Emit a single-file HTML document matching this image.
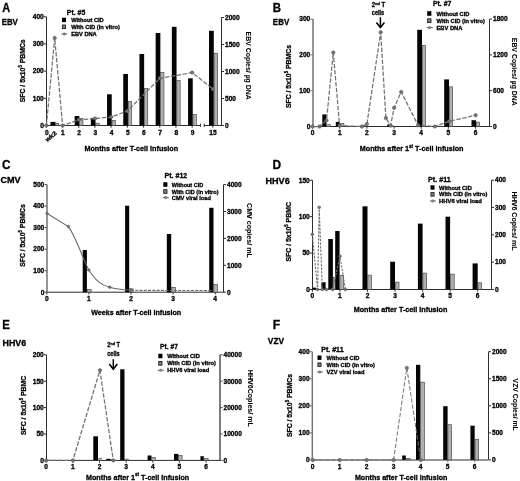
<!DOCTYPE html>
<html><head><meta charset="utf-8"><title>Figure</title>
<style>
html,body{margin:0;padding:0;background:#fff;width:520px;height:481px;overflow:hidden;}
svg{display:block;will-change:transform;filter:blur(0.3px);font-family:"Liberation Sans", sans-serif;font-weight:bold;}
text{stroke:#000;stroke-width:0.3px;}
</style></head><body>
<svg width="520" height="481" viewBox="0 0 520 481">
<rect x="0" y="0" width="520" height="481" fill="#fff"/>
<text x="2.34" y="11.7" font-size="12.06" textLength="7.95" lengthAdjust="spacingAndGlyphs">A</text>
<text x="1.68" y="25.3" font-size="9.16" textLength="16.17" lengthAdjust="spacingAndGlyphs">EBV</text>
<line x1="46.5" y1="16.78" x2="46.5" y2="125.5" stroke="#2e2e2e" stroke-width="1"/>
<line x1="43.9" y1="125.5" x2="46.5" y2="125.5" stroke="#2e2e2e" stroke-width="1"/>
<text x="43.8" y="127.8" font-size="6.6" text-anchor="end">0</text>
<line x1="43.9" y1="98.32" x2="46.5" y2="98.32" stroke="#2e2e2e" stroke-width="1"/>
<text x="43.8" y="100.62" font-size="6.6" text-anchor="end">100</text>
<line x1="43.9" y1="71.14" x2="46.5" y2="71.14" stroke="#2e2e2e" stroke-width="1"/>
<text x="43.8" y="73.44" font-size="6.6" text-anchor="end">200</text>
<line x1="43.9" y1="43.96" x2="46.5" y2="43.96" stroke="#2e2e2e" stroke-width="1"/>
<text x="43.8" y="46.26" font-size="6.6" text-anchor="end">300</text>
<line x1="43.9" y1="16.78" x2="46.5" y2="16.78" stroke="#2e2e2e" stroke-width="1"/>
<text x="43.8" y="19.08" font-size="6.6" text-anchor="end">400</text>
<line x1="221.5" y1="17.5" x2="221.5" y2="125.5" stroke="#2e2e2e" stroke-width="1"/>
<line x1="221.5" y1="125.5" x2="224.1" y2="125.5" stroke="#2e2e2e" stroke-width="1"/>
<text x="225" y="127.8" font-size="6.6">0</text>
<line x1="221.5" y1="98.5" x2="224.1" y2="98.5" stroke="#2e2e2e" stroke-width="1"/>
<text x="225" y="100.8" font-size="6.6">500</text>
<line x1="221.5" y1="71.5" x2="224.1" y2="71.5" stroke="#2e2e2e" stroke-width="1"/>
<text x="225" y="73.8" font-size="6.6">1000</text>
<line x1="221.5" y1="44.5" x2="224.1" y2="44.5" stroke="#2e2e2e" stroke-width="1"/>
<text x="225" y="46.8" font-size="6.6">1500</text>
<line x1="221.5" y1="17.5" x2="224.1" y2="17.5" stroke="#2e2e2e" stroke-width="1"/>
<text x="225" y="19.8" font-size="6.6">2000</text>
<line x1="46.5" y1="125.5" x2="200.4" y2="125.5" stroke="#2e2e2e" stroke-width="1"/>
<line x1="204.2" y1="125.5" x2="221.5" y2="125.5" stroke="#2e2e2e" stroke-width="1"/>
<line x1="46.35" y1="125.5" x2="46.35" y2="127.7" stroke="#2e2e2e" stroke-width="1"/>
<text x="46.75" y="134.5" font-size="6.6" text-anchor="middle">0</text>
<line x1="62.55" y1="125.5" x2="62.55" y2="127.7" stroke="#2e2e2e" stroke-width="1"/>
<text x="62.95" y="134.5" font-size="6.6" text-anchor="middle">1</text>
<line x1="78.75" y1="125.5" x2="78.75" y2="127.7" stroke="#2e2e2e" stroke-width="1"/>
<text x="79.15" y="134.5" font-size="6.6" text-anchor="middle">2</text>
<line x1="94.95" y1="125.5" x2="94.95" y2="127.7" stroke="#2e2e2e" stroke-width="1"/>
<text x="95.35" y="134.5" font-size="6.6" text-anchor="middle">3</text>
<line x1="111.15" y1="125.5" x2="111.15" y2="127.7" stroke="#2e2e2e" stroke-width="1"/>
<text x="111.55" y="134.5" font-size="6.6" text-anchor="middle">4</text>
<line x1="127.35" y1="125.5" x2="127.35" y2="127.7" stroke="#2e2e2e" stroke-width="1"/>
<text x="127.75" y="134.5" font-size="6.6" text-anchor="middle">5</text>
<line x1="143.55" y1="125.5" x2="143.55" y2="127.7" stroke="#2e2e2e" stroke-width="1"/>
<text x="143.95" y="134.5" font-size="6.6" text-anchor="middle">6</text>
<line x1="159.75" y1="125.5" x2="159.75" y2="127.7" stroke="#2e2e2e" stroke-width="1"/>
<text x="160.15" y="134.5" font-size="6.6" text-anchor="middle">7</text>
<line x1="175.95" y1="125.5" x2="175.95" y2="127.7" stroke="#2e2e2e" stroke-width="1"/>
<text x="176.35" y="134.5" font-size="6.6" text-anchor="middle">8</text>
<line x1="192.15" y1="125.5" x2="192.15" y2="127.7" stroke="#2e2e2e" stroke-width="1"/>
<text x="192.55" y="134.5" font-size="6.6" text-anchor="middle">9</text>
<line x1="212.9" y1="125.5" x2="212.9" y2="127.7" stroke="#2e2e2e" stroke-width="1"/>
<text x="213" y="134.5" font-size="6.6" text-anchor="middle">15</text>
<line x1="200.4" y1="123.6" x2="200.4" y2="127" stroke="#2e2e2e" stroke-width="1"/>
<line x1="204.2" y1="123.6" x2="204.2" y2="127" stroke="#2e2e2e" stroke-width="1"/>
<text transform="translate(47.2 141.9) rotate(-38)" x="0" y="0" font-size="6" textLength="12.8" lengthAdjust="spacingAndGlyphs">wk2</text>
<rect x="50.5" y="121.9" width="5" height="3.6" fill="#050505"/>
<rect x="55.8" y="123.3" width="2.9" height="2.2" fill="#b0b0b0" stroke="#3a3a3a" stroke-width="0.6"/>
<rect x="74.65" y="116" width="4.7" height="9.5" fill="#050505"/>
<rect x="79.65" y="118.4" width="3.3" height="7.1" fill="#b0b0b0" stroke="#3a3a3a" stroke-width="0.6"/>
<rect x="90.85" y="117.9" width="4.7" height="7.6" fill="#050505"/>
<rect x="95.85" y="123.2" width="3.3" height="2.3" fill="#b0b0b0" stroke="#3a3a3a" stroke-width="0.6"/>
<rect x="107.05" y="94.3" width="4.7" height="31.2" fill="#050505"/>
<rect x="112.05" y="120.3" width="3.3" height="5.2" fill="#b0b0b0" stroke="#3a3a3a" stroke-width="0.6"/>
<rect x="123.25" y="74" width="4.7" height="51.5" fill="#050505"/>
<rect x="128.25" y="101.3" width="3.3" height="24.2" fill="#b0b0b0" stroke="#3a3a3a" stroke-width="0.6"/>
<rect x="139.45" y="54" width="4.7" height="71.5" fill="#050505"/>
<rect x="144.45" y="88.3" width="3.3" height="37.2" fill="#b0b0b0" stroke="#3a3a3a" stroke-width="0.6"/>
<rect x="155.65" y="33" width="4.7" height="92.5" fill="#050505"/>
<rect x="160.65" y="72.3" width="3.3" height="53.2" fill="#b0b0b0" stroke="#3a3a3a" stroke-width="0.6"/>
<rect x="171.85" y="26.8" width="4.7" height="98.7" fill="#050505"/>
<rect x="176.85" y="80.3" width="3.3" height="45.2" fill="#b0b0b0" stroke="#3a3a3a" stroke-width="0.6"/>
<rect x="188.05" y="78.3" width="4.7" height="47.2" fill="#050505"/>
<rect x="193.05" y="114.6" width="3.3" height="10.9" fill="#b0b0b0" stroke="#3a3a3a" stroke-width="0.6"/>
<rect x="209" y="30.8" width="4.8" height="94.7" fill="#050505"/>
<rect x="214.1" y="53.2" width="3.5" height="72.3" fill="#b0b0b0" stroke="#3a3a3a" stroke-width="0.6"/>
<polyline points="46.4,125.5 54.7,38 62.6,125.5 78.8,119.8 95,118.5 111.2,117 127.4,111 159.8,78.3 192.1,72.6 212.9,89" fill="none" stroke="#727272" stroke-width="1.25" stroke-dasharray="4.4 1.6"/>
<circle cx="46.4" cy="125.5" r="1.75" fill="#727272" stroke="#5a5a5a" stroke-width="0.5"/>
<circle cx="54.7" cy="38" r="1.75" fill="#727272" stroke="#5a5a5a" stroke-width="0.5"/>
<circle cx="62.6" cy="125.5" r="1.75" fill="#727272" stroke="#5a5a5a" stroke-width="0.5"/>
<circle cx="78.8" cy="119.8" r="1.75" fill="#727272" stroke="#5a5a5a" stroke-width="0.5"/>
<circle cx="95" cy="118.5" r="1.75" fill="#727272" stroke="#5a5a5a" stroke-width="0.5"/>
<circle cx="111.2" cy="117" r="1.75" fill="#727272" stroke="#5a5a5a" stroke-width="0.5"/>
<circle cx="127.4" cy="111" r="1.75" fill="#727272" stroke="#5a5a5a" stroke-width="0.5"/>
<circle cx="159.8" cy="78.3" r="1.75" fill="#727272" stroke="#5a5a5a" stroke-width="0.5"/>
<circle cx="192.1" cy="72.6" r="1.75" fill="#727272" stroke="#5a5a5a" stroke-width="0.5"/>
<circle cx="212.9" cy="89" r="1.75" fill="#727272" stroke="#5a5a5a" stroke-width="0.5"/>
<text x="84.42" y="150.5" font-size="7.27" textLength="93.72" lengthAdjust="spacingAndGlyphs">Months after T-cell infusion</text>
<text transform="translate(25 102.29) rotate(-90)" x="0" y="0" font-size="7.41" textLength="62.97" lengthAdjust="spacingAndGlyphs">SFC / 5x10<tspan font-size="4.6" dy="-3.11">5</tspan><tspan dy="3.11"> PBMCs</tspan></text>
<text transform="translate(245.7 31.54) rotate(90)" x="0" y="0" font-size="7.41" style="stroke-width:0.05px" textLength="68.24" lengthAdjust="spacingAndGlyphs">EBV Copies/ µg DNA</text>
<text x="66.8" y="14.8" font-size="7.2" textLength="18.5" lengthAdjust="spacingAndGlyphs">Pt. #5</text>
<rect x="62" y="17.7" width="4" height="4.4" fill="#000"/>
<rect x="62.4" y="25" width="3.2" height="3.6" fill="#7e7e7e" stroke="#111" stroke-width="0.8"/>
<line x1="61.4" y1="34" x2="67.4" y2="34" stroke="#666" stroke-width="1"/>
<circle cx="64.3" cy="34" r="1.3" fill="#888" stroke="#555" stroke-width="0.4"/>
<text x="71.2" y="21.9" font-size="5.6" textLength="32.5" lengthAdjust="spacingAndGlyphs">Without CID</text>
<text x="71.2" y="28.8" font-size="5.6" textLength="48.7" lengthAdjust="spacingAndGlyphs">With CID (in vitro)</text>
<text x="71.2" y="36" font-size="5.6" textLength="25.5" lengthAdjust="spacingAndGlyphs">EBV DNA</text>
<text x="272.84" y="11.9" font-size="12.21" textLength="8.27" lengthAdjust="spacingAndGlyphs">B</text>
<text x="272.87" y="25.1" font-size="9.01" textLength="16.37" lengthAdjust="spacingAndGlyphs">EBV</text>
<line x1="313" y1="19.1" x2="313" y2="126.5" stroke="#737373" stroke-width="1.5"/>
<line x1="310.4" y1="126.5" x2="313" y2="126.5" stroke="#737373" stroke-width="1"/>
<text x="310.3" y="128.8" font-size="6.6" text-anchor="end">0</text>
<line x1="310.4" y1="90.7" x2="313" y2="90.7" stroke="#737373" stroke-width="1"/>
<text x="310.3" y="93" font-size="6.6" text-anchor="end">100</text>
<line x1="310.4" y1="54.9" x2="313" y2="54.9" stroke="#737373" stroke-width="1"/>
<text x="310.3" y="57.2" font-size="6.6" text-anchor="end">200</text>
<line x1="310.4" y1="19.1" x2="313" y2="19.1" stroke="#737373" stroke-width="1"/>
<text x="310.3" y="21.4" font-size="6.6" text-anchor="end">300</text>
<line x1="489.5" y1="19.09" x2="489.5" y2="126.5" stroke="#2e2e2e" stroke-width="1"/>
<line x1="489.5" y1="126.5" x2="492.1" y2="126.5" stroke="#2e2e2e" stroke-width="1"/>
<text x="493" y="128.8" font-size="6.6">0</text>
<line x1="489.5" y1="90.7" x2="492.1" y2="90.7" stroke="#2e2e2e" stroke-width="1"/>
<text x="493" y="93" font-size="6.6">600</text>
<line x1="489.5" y1="54.9" x2="492.1" y2="54.9" stroke="#2e2e2e" stroke-width="1"/>
<text x="493" y="57.2" font-size="6.6">1200</text>
<line x1="489.5" y1="19.09" x2="492.1" y2="19.09" stroke="#2e2e2e" stroke-width="1"/>
<text x="493" y="21.39" font-size="6.6">1800</text>
<line x1="313" y1="126.5" x2="489.5" y2="126.5" stroke="#2e2e2e" stroke-width="1"/>
<line x1="312.6" y1="126.5" x2="312.6" y2="128.7" stroke="#2e2e2e" stroke-width="1"/>
<text x="312.6" y="134.7" font-size="6.6" text-anchor="middle">0</text>
<line x1="339.75" y1="126.5" x2="339.75" y2="128.7" stroke="#2e2e2e" stroke-width="1"/>
<text x="339.75" y="134.7" font-size="6.6" text-anchor="middle">1</text>
<line x1="366.9" y1="126.5" x2="366.9" y2="128.7" stroke="#2e2e2e" stroke-width="1"/>
<text x="366.9" y="134.7" font-size="6.6" text-anchor="middle">2</text>
<line x1="394.05" y1="126.5" x2="394.05" y2="128.7" stroke="#2e2e2e" stroke-width="1"/>
<text x="394.05" y="134.7" font-size="6.6" text-anchor="middle">3</text>
<line x1="421.2" y1="126.5" x2="421.2" y2="128.7" stroke="#2e2e2e" stroke-width="1"/>
<text x="421.2" y="134.7" font-size="6.6" text-anchor="middle">4</text>
<line x1="448.35" y1="126.5" x2="448.35" y2="128.7" stroke="#2e2e2e" stroke-width="1"/>
<text x="448.35" y="134.7" font-size="6.6" text-anchor="middle">5</text>
<line x1="475.5" y1="126.5" x2="475.5" y2="128.7" stroke="#2e2e2e" stroke-width="1"/>
<text x="475.5" y="134.7" font-size="6.6" text-anchor="middle">6</text>
<rect x="322.3" y="114.4" width="4.2" height="12.1" fill="#050505"/>
<rect x="326.8" y="124.7" width="3.8" height="1.8" fill="#b0b0b0" stroke="#3a3a3a" stroke-width="0.6"/>
<rect x="335.8" y="121.9" width="3.95" height="4.6" fill="#050505"/>
<rect x="340.05" y="123.4" width="3.85" height="3.1" fill="#b0b0b0" stroke="#3a3a3a" stroke-width="0.6"/>
<rect x="387.2" y="124.5" width="3.4" height="2" fill="#050505"/>
<rect x="390.9" y="125.9" width="2.8" height="0.6" fill="#b0b0b0" stroke="#3a3a3a" stroke-width="0.6"/>
<rect x="417.2" y="29.8" width="4.8" height="96.7" fill="#050505"/>
<rect x="422.3" y="45.5" width="3.2" height="81" fill="#b0b0b0" stroke="#3a3a3a" stroke-width="0.6"/>
<rect x="444.2" y="79.4" width="4.8" height="47.1" fill="#050505"/>
<rect x="449.3" y="86.8" width="3.4" height="39.7" fill="#b0b0b0" stroke="#3a3a3a" stroke-width="0.6"/>
<rect x="471.5" y="120.2" width="4.5" height="6.3" fill="#050505"/>
<rect x="476.3" y="122.1" width="3.4" height="4.4" fill="#b0b0b0" stroke="#3a3a3a" stroke-width="0.6"/>
<polyline points="312.6,126.5 319.6,126.5 326.5,120.4 333.3,52.5 339.6,125.6 361.9,126.5 366.9,124.1 380.7,32.2 385.9,118.1 390.6,125.6 394.1,107.8 401.2,91.9 418.1,125.3 434.8,126.5 449.3,121.3 475.6,115.2" fill="none" stroke="#727272" stroke-width="1.25" stroke-dasharray="4.4 1.6"/>
<circle cx="312.6" cy="126.5" r="1.75" fill="#727272" stroke="#5a5a5a" stroke-width="0.5"/>
<circle cx="319.6" cy="126.5" r="1.75" fill="#727272" stroke="#5a5a5a" stroke-width="0.5"/>
<circle cx="326.5" cy="120.4" r="1.75" fill="#727272" stroke="#5a5a5a" stroke-width="0.5"/>
<circle cx="333.3" cy="52.5" r="1.75" fill="#727272" stroke="#5a5a5a" stroke-width="0.5"/>
<circle cx="339.6" cy="125.6" r="1.75" fill="#727272" stroke="#5a5a5a" stroke-width="0.5"/>
<circle cx="361.9" cy="126.5" r="1.75" fill="#727272" stroke="#5a5a5a" stroke-width="0.5"/>
<circle cx="366.9" cy="124.1" r="1.75" fill="#727272" stroke="#5a5a5a" stroke-width="0.5"/>
<circle cx="380.7" cy="32.2" r="1.75" fill="#727272" stroke="#5a5a5a" stroke-width="0.5"/>
<circle cx="385.9" cy="118.1" r="1.75" fill="#727272" stroke="#5a5a5a" stroke-width="0.5"/>
<circle cx="390.6" cy="125.6" r="1.75" fill="#727272" stroke="#5a5a5a" stroke-width="0.5"/>
<circle cx="394.1" cy="107.8" r="1.75" fill="#727272" stroke="#5a5a5a" stroke-width="0.5"/>
<circle cx="401.2" cy="91.9" r="1.75" fill="#727272" stroke="#5a5a5a" stroke-width="0.5"/>
<circle cx="418.1" cy="125.3" r="1.75" fill="#727272" stroke="#5a5a5a" stroke-width="0.5"/>
<circle cx="434.8" cy="126.5" r="1.75" fill="#727272" stroke="#5a5a5a" stroke-width="0.5"/>
<circle cx="449.3" cy="121.3" r="1.75" fill="#727272" stroke="#5a5a5a" stroke-width="0.5"/>
<circle cx="475.6" cy="115.2" r="1.75" fill="#727272" stroke="#5a5a5a" stroke-width="0.5"/>
<text x="359.72" y="151.4" font-size="7.41" textLength="103.82" lengthAdjust="spacingAndGlyphs">Months after 1<tspan font-size="4.6" dy="-3.11">st</tspan><tspan dy="3.11"> T-cell infusion</tspan></text>
<text transform="translate(291.2 108.09) rotate(-90)" x="0" y="0" font-size="7.41" textLength="63.07" lengthAdjust="spacingAndGlyphs">SFC / 5x10<tspan font-size="4.6" dy="-3.11">5</tspan><tspan dy="3.11"> PBMCs</tspan></text>
<text transform="translate(512.3 37.85) rotate(90)" x="0" y="0" font-size="7.41" style="stroke-width:0.05px" textLength="67.93" lengthAdjust="spacingAndGlyphs">EBV Copies/ µg DNA</text>
<text x="433" y="6.1" font-size="7.2" textLength="18.3" lengthAdjust="spacingAndGlyphs">Pt. #7</text>
<rect x="427.2" y="11.19" width="4.2" height="4.62" fill="#000"/>
<rect x="427.6" y="18.79" width="3.4" height="3.82" fill="#7e7e7e" stroke="#111" stroke-width="0.8"/>
<line x1="426.6" y1="27.6" x2="432.8" y2="27.6" stroke="#666" stroke-width="1"/>
<circle cx="429.6" cy="27.6" r="1.3" fill="#888" stroke="#555" stroke-width="0.4"/>
<text x="436.5" y="15.5" font-size="5.6" textLength="32.9" lengthAdjust="spacingAndGlyphs">Without CID</text>
<text x="436.5" y="22.7" font-size="5.6" textLength="48.5" lengthAdjust="spacingAndGlyphs">With CID (in vitro)</text>
<text x="436.5" y="29.6" font-size="5.6" textLength="25.9" lengthAdjust="spacingAndGlyphs">EBV DNA</text>
<text x="371.8" y="7.1" font-size="6.4" textLength="13.3" lengthAdjust="spacingAndGlyphs">2<tspan font-size="4.0" dy="-2.2">nd</tspan><tspan dy="2.2"> T</tspan></text>
<text x="378" y="15.3" font-size="6.6" textLength="12.3" lengthAdjust="spacingAndGlyphs" text-anchor="middle">cells</text>
<line x1="380.4" y1="17.3" x2="380.4" y2="27" stroke="#000" stroke-width="1.5"/>
<polyline points="376.4,22.4 380.4,27.4 384.4,22.4" fill="none" stroke="#000" stroke-width="1.6"/>
<text x="1.92" y="168.6" font-size="11.92" textLength="8.5" lengthAdjust="spacingAndGlyphs">C</text>
<text x="0.53" y="182.6" font-size="9.01" textLength="20.13" lengthAdjust="spacingAndGlyphs">CMV</text>
<line x1="47" y1="184.6" x2="47" y2="292.2" stroke="#505050" stroke-width="1.2"/>
<line x1="44.4" y1="292.2" x2="47" y2="292.2" stroke="#505050" stroke-width="1"/>
<text x="44.3" y="294.5" font-size="6.6" text-anchor="end">0</text>
<line x1="44.4" y1="270.68" x2="47" y2="270.68" stroke="#505050" stroke-width="1"/>
<text x="44.3" y="272.98" font-size="6.6" text-anchor="end">100</text>
<line x1="44.4" y1="249.16" x2="47" y2="249.16" stroke="#505050" stroke-width="1"/>
<text x="44.3" y="251.46" font-size="6.6" text-anchor="end">200</text>
<line x1="44.4" y1="227.64" x2="47" y2="227.64" stroke="#505050" stroke-width="1"/>
<text x="44.3" y="229.94" font-size="6.6" text-anchor="end">300</text>
<line x1="44.4" y1="206.12" x2="47" y2="206.12" stroke="#505050" stroke-width="1"/>
<text x="44.3" y="208.42" font-size="6.6" text-anchor="end">400</text>
<line x1="44.4" y1="184.6" x2="47" y2="184.6" stroke="#505050" stroke-width="1"/>
<text x="44.3" y="186.9" font-size="6.6" text-anchor="end">500</text>
<line x1="223.5" y1="184.6" x2="223.5" y2="292.2" stroke="#2e2e2e" stroke-width="1"/>
<line x1="223.5" y1="292.2" x2="226.1" y2="292.2" stroke="#2e2e2e" stroke-width="1"/>
<text x="227" y="294.5" font-size="6.6">0</text>
<line x1="223.5" y1="265.3" x2="226.1" y2="265.3" stroke="#2e2e2e" stroke-width="1"/>
<text x="227" y="267.6" font-size="6.6">1000</text>
<line x1="223.5" y1="238.4" x2="226.1" y2="238.4" stroke="#2e2e2e" stroke-width="1"/>
<text x="227" y="240.7" font-size="6.6">2000</text>
<line x1="223.5" y1="211.5" x2="226.1" y2="211.5" stroke="#2e2e2e" stroke-width="1"/>
<text x="227" y="213.8" font-size="6.6">3000</text>
<line x1="223.5" y1="184.6" x2="226.1" y2="184.6" stroke="#2e2e2e" stroke-width="1"/>
<text x="227" y="186.9" font-size="6.6">4000</text>
<line x1="47" y1="292.2" x2="223.5" y2="292.2" stroke="#2e2e2e" stroke-width="1"/>
<line x1="46.8" y1="292.2" x2="46.8" y2="294.4" stroke="#2e2e2e" stroke-width="1"/>
<text x="46.8" y="300.6" font-size="6.6" text-anchor="middle">0</text>
<line x1="88.9" y1="292.2" x2="88.9" y2="294.4" stroke="#2e2e2e" stroke-width="1"/>
<text x="88.9" y="300.6" font-size="6.6" text-anchor="middle">1</text>
<line x1="131" y1="292.2" x2="131" y2="294.4" stroke="#2e2e2e" stroke-width="1"/>
<text x="131" y="300.6" font-size="6.6" text-anchor="middle">2</text>
<line x1="173.1" y1="292.2" x2="173.1" y2="294.4" stroke="#2e2e2e" stroke-width="1"/>
<text x="173.1" y="300.6" font-size="6.6" text-anchor="middle">3</text>
<line x1="215.2" y1="292.2" x2="215.2" y2="294.4" stroke="#2e2e2e" stroke-width="1"/>
<text x="215.2" y="300.6" font-size="6.6" text-anchor="middle">4</text>
<rect x="82.7" y="250" width="4.2" height="42.2" fill="#050505"/>
<rect x="87.2" y="289.5" width="3.9" height="2.7" fill="#b0b0b0" stroke="#3a3a3a" stroke-width="0.6"/>
<rect x="125.1" y="205.7" width="4.1" height="86.5" fill="#050505"/>
<rect x="129.5" y="288.8" width="3.6" height="3.4" fill="#b0b0b0" stroke="#3a3a3a" stroke-width="0.6"/>
<rect x="166.8" y="234" width="4.4" height="58.2" fill="#050505"/>
<rect x="171.5" y="287.3" width="4" height="4.9" fill="#b0b0b0" stroke="#3a3a3a" stroke-width="0.6"/>
<rect x="209.2" y="207.8" width="4.3" height="84.4" fill="#050505"/>
<rect x="213.8" y="284.6" width="3.7" height="7.6" fill="#b0b0b0" stroke="#3a3a3a" stroke-width="0.6"/>
<path d="M47.1,213.5 L68.4,226.6 C75,235 80,252 88.8,270 C96,281 101,285 109.7,287.2 C116,289 122,289.6 130.8,290.3" fill="none" stroke="#686868" stroke-width="1.05"/>
<path d="M130.8,290.3 L213,290.6" fill="none" stroke="#6a6a6a" stroke-width="1.1" stroke-dasharray="3 1.3"/>
<circle cx="47.1" cy="213.5" r="1.35" fill="#727272" stroke="#5a5a5a" stroke-width="0.5"/>
<circle cx="68.4" cy="226.6" r="1.35" fill="#727272" stroke="#5a5a5a" stroke-width="0.5"/>
<circle cx="88.8" cy="270" r="1.35" fill="#727272" stroke="#5a5a5a" stroke-width="0.5"/>
<circle cx="109.7" cy="287.2" r="1.35" fill="#727272" stroke="#5a5a5a" stroke-width="0.5"/>
<circle cx="130.8" cy="290.3" r="1.35" fill="#727272" stroke="#5a5a5a" stroke-width="0.5"/>
<text x="91.19" y="314.8" font-size="7.27" textLength="90.05" lengthAdjust="spacingAndGlyphs">Weeks after T-cell infusion</text>
<text transform="translate(25 266.79) rotate(-90)" x="0" y="0" font-size="7.41" textLength="62.46" lengthAdjust="spacingAndGlyphs">SFC / 5x10<tspan font-size="4.6" dy="-3.11">5</tspan><tspan dy="3.11"> PBMCs</tspan></text>
<text transform="translate(247.3 203.01) rotate(90)" x="0" y="0" font-size="7.41" style="stroke-width:0.05px" textLength="54.8" lengthAdjust="spacingAndGlyphs">CMV copies/ mL</text>
<text x="164.4" y="178.1" font-size="7.2" textLength="22.9" lengthAdjust="spacingAndGlyphs">Pt. #12</text>
<rect x="163.3" y="182.25" width="4.1" height="4.51" fill="#000"/>
<rect x="163.7" y="189.65" width="3.3" height="3.71" fill="#7e7e7e" stroke="#111" stroke-width="0.8"/>
<line x1="162.7" y1="197.6" x2="168.8" y2="197.6" stroke="#666" stroke-width="1"/>
<circle cx="165.65" cy="197.6" r="1.3" fill="#888" stroke="#555" stroke-width="0.4"/>
<text x="171.8" y="186.5" font-size="5.6" textLength="31.4" lengthAdjust="spacingAndGlyphs">Without CID</text>
<text x="171.8" y="193.5" font-size="5.6" textLength="46.7" lengthAdjust="spacingAndGlyphs">With CID (in vitro)</text>
<text x="171.8" y="199.6" font-size="5.6" textLength="39.1" lengthAdjust="spacingAndGlyphs">CMV viral load</text>
<text x="272.61" y="168.75" font-size="12.21" textLength="8.63" lengthAdjust="spacingAndGlyphs">D</text>
<text x="265.5" y="184.3" font-size="8.87" textLength="24.22" lengthAdjust="spacingAndGlyphs">HHV6</text>
<line x1="312.5" y1="180.19" x2="312.5" y2="289.5" stroke="#2e2e2e" stroke-width="1"/>
<line x1="309.9" y1="289.5" x2="312.5" y2="289.5" stroke="#2e2e2e" stroke-width="1"/>
<text x="309.8" y="291.8" font-size="6.6" text-anchor="end">0</text>
<line x1="309.9" y1="253.06" x2="312.5" y2="253.06" stroke="#2e2e2e" stroke-width="1"/>
<text x="309.8" y="255.37" font-size="6.6" text-anchor="end">50</text>
<line x1="309.9" y1="216.63" x2="312.5" y2="216.63" stroke="#2e2e2e" stroke-width="1"/>
<text x="309.8" y="218.93" font-size="6.6" text-anchor="end">100</text>
<line x1="309.9" y1="180.19" x2="312.5" y2="180.19" stroke="#2e2e2e" stroke-width="1"/>
<text x="309.8" y="182.5" font-size="6.6" text-anchor="end">150</text>
<line x1="491.5" y1="180.18" x2="491.5" y2="289.5" stroke="#2e2e2e" stroke-width="1"/>
<line x1="491.5" y1="289.5" x2="494.1" y2="289.5" stroke="#2e2e2e" stroke-width="1"/>
<text x="495" y="291.8" font-size="6.6">0</text>
<line x1="491.5" y1="262.17" x2="494.1" y2="262.17" stroke="#2e2e2e" stroke-width="1"/>
<text x="495" y="264.47" font-size="6.6">100</text>
<line x1="491.5" y1="234.84" x2="494.1" y2="234.84" stroke="#2e2e2e" stroke-width="1"/>
<text x="495" y="237.14" font-size="6.6">200</text>
<line x1="491.5" y1="207.51" x2="494.1" y2="207.51" stroke="#2e2e2e" stroke-width="1"/>
<text x="495" y="209.81" font-size="6.6">300</text>
<line x1="491.5" y1="180.18" x2="494.1" y2="180.18" stroke="#2e2e2e" stroke-width="1"/>
<text x="495" y="182.48" font-size="6.6">400</text>
<line x1="312.5" y1="289.5" x2="491.5" y2="289.5" stroke="#2e2e2e" stroke-width="1"/>
<line x1="312.4" y1="289.5" x2="312.4" y2="291.7" stroke="#2e2e2e" stroke-width="1"/>
<text x="312.4" y="298.1" font-size="6.6" text-anchor="middle">0</text>
<line x1="339.95" y1="289.5" x2="339.95" y2="291.7" stroke="#2e2e2e" stroke-width="1"/>
<text x="339.95" y="298.1" font-size="6.6" text-anchor="middle">1</text>
<line x1="367.5" y1="289.5" x2="367.5" y2="291.7" stroke="#2e2e2e" stroke-width="1"/>
<text x="367.5" y="298.1" font-size="6.6" text-anchor="middle">2</text>
<line x1="395.05" y1="289.5" x2="395.05" y2="291.7" stroke="#2e2e2e" stroke-width="1"/>
<text x="395.05" y="298.1" font-size="6.6" text-anchor="middle">3</text>
<line x1="422.6" y1="289.5" x2="422.6" y2="291.7" stroke="#2e2e2e" stroke-width="1"/>
<text x="422.6" y="298.1" font-size="6.6" text-anchor="middle">4</text>
<line x1="450.15" y1="289.5" x2="450.15" y2="291.7" stroke="#2e2e2e" stroke-width="1"/>
<text x="450.15" y="298.1" font-size="6.6" text-anchor="middle">5</text>
<line x1="477.7" y1="289.5" x2="477.7" y2="291.7" stroke="#2e2e2e" stroke-width="1"/>
<text x="477.7" y="298.1" font-size="6.6" text-anchor="middle">6</text>
<rect x="312.6" y="287.6" width="3.4" height="1.9" fill="#050505"/>
<rect x="321.4" y="282.2" width="4.2" height="7.3" fill="#050505"/>
<rect x="328.3" y="239" width="4.6" height="50.5" fill="#050505"/>
<rect x="333.2" y="277.5" width="3.1" height="12" fill="#b0b0b0" stroke="#3a3a3a" stroke-width="0.6"/>
<rect x="335.2" y="231" width="4.4" height="58.5" fill="#050505"/>
<rect x="339.9" y="275.3" width="3.6" height="14.2" fill="#b0b0b0" stroke="#3a3a3a" stroke-width="0.6"/>
<rect x="362.5" y="206.3" width="5" height="83.2" fill="#050505"/>
<rect x="367.8" y="275.1" width="3.7" height="14.4" fill="#b0b0b0" stroke="#3a3a3a" stroke-width="0.6"/>
<rect x="390.2" y="261.7" width="4.8" height="27.8" fill="#050505"/>
<rect x="395.3" y="282.1" width="3.7" height="7.4" fill="#b0b0b0" stroke="#3a3a3a" stroke-width="0.6"/>
<rect x="417.9" y="223.6" width="4.7" height="65.9" fill="#050505"/>
<rect x="422.9" y="273.1" width="3.8" height="16.4" fill="#b0b0b0" stroke="#3a3a3a" stroke-width="0.6"/>
<rect x="445.5" y="216.7" width="4.6" height="72.8" fill="#050505"/>
<rect x="450.4" y="274.1" width="3.8" height="15.4" fill="#b0b0b0" stroke="#3a3a3a" stroke-width="0.6"/>
<rect x="472.6" y="263.4" width="5.1" height="26.1" fill="#050505"/>
<rect x="478" y="282.8" width="3.7" height="6.7" fill="#b0b0b0" stroke="#3a3a3a" stroke-width="0.6"/>
<polyline points="312.3,234.3 317.6,289.5 319.2,207.3 322.3,289.5 326.3,289.5 332.6,289.5 340,256.2 345.4,289.5" fill="none" stroke="#727272" stroke-width="1.1" stroke-dasharray="2.4 1.2"/>
<circle cx="312.3" cy="234.3" r="1.4" fill="#727272" stroke="#5a5a5a" stroke-width="0.5"/>
<circle cx="317.6" cy="289.5" r="1.4" fill="#727272" stroke="#5a5a5a" stroke-width="0.5"/>
<circle cx="319.2" cy="207.3" r="1.4" fill="#727272" stroke="#5a5a5a" stroke-width="0.5"/>
<circle cx="322.3" cy="289.5" r="1.4" fill="#727272" stroke="#5a5a5a" stroke-width="0.5"/>
<circle cx="326.3" cy="289.5" r="1.4" fill="#727272" stroke="#5a5a5a" stroke-width="0.5"/>
<circle cx="332.6" cy="289.5" r="1.4" fill="#727272" stroke="#5a5a5a" stroke-width="0.5"/>
<circle cx="340" cy="256.2" r="1.4" fill="#727272" stroke="#5a5a5a" stroke-width="0.5"/>
<circle cx="345.4" cy="289.5" r="1.4" fill="#727272" stroke="#5a5a5a" stroke-width="0.5"/>
<text x="353.72" y="311.5" font-size="7.27" textLength="93.62" lengthAdjust="spacingAndGlyphs">Months after T-cell infusion</text>
<text transform="translate(291.4 261.49) rotate(-90)" x="0" y="0" font-size="7.41" textLength="59.38" lengthAdjust="spacingAndGlyphs">SFC / 5x10<tspan font-size="4.6" dy="-3.11">5</tspan><tspan dy="3.11"> PBMC</tspan></text>
<text transform="translate(512.3 191.53) rotate(90)" x="0" y="0" font-size="7.41" style="stroke-width:0.05px" textLength="58.98" lengthAdjust="spacingAndGlyphs">HHV6 Copies/ mL</text>
<text x="428.1" y="181.7" font-size="7.2" textLength="22.6" lengthAdjust="spacingAndGlyphs">Pt. #11</text>
<rect x="430.5" y="185.3" width="4" height="4.4" fill="#000"/>
<rect x="430.9" y="192.6" width="3.2" height="3.6" fill="#7e7e7e" stroke="#111" stroke-width="0.8"/>
<line x1="429.9" y1="201" x2="435.9" y2="201" stroke="#666" stroke-width="1"/>
<circle cx="432.8" cy="201" r="1.3" fill="#888" stroke="#555" stroke-width="0.4"/>
<text x="439.1" y="189.5" font-size="5.6" textLength="32.7" lengthAdjust="spacingAndGlyphs">Without CID</text>
<text x="439.1" y="196.4" font-size="5.6" textLength="48.2" lengthAdjust="spacingAndGlyphs">With CID (in vitro)</text>
<text x="439.1" y="203" font-size="5.6" textLength="42.8" lengthAdjust="spacingAndGlyphs">HHV6 viral load</text>
<text x="2.25" y="329.2" font-size="12.21" textLength="7.6" lengthAdjust="spacingAndGlyphs">E</text>
<text x="2.51" y="345.8" font-size="8.72" textLength="23.7" lengthAdjust="spacingAndGlyphs">HHV6</text>
<line x1="46.5" y1="354.8" x2="46.5" y2="460.4" stroke="#2e2e2e" stroke-width="1"/>
<line x1="43.9" y1="460.4" x2="46.5" y2="460.4" stroke="#2e2e2e" stroke-width="1"/>
<text x="43.8" y="462.7" font-size="6.6" text-anchor="end">0</text>
<line x1="43.9" y1="434" x2="46.5" y2="434" stroke="#2e2e2e" stroke-width="1"/>
<text x="43.8" y="436.3" font-size="6.6" text-anchor="end">50</text>
<line x1="43.9" y1="407.6" x2="46.5" y2="407.6" stroke="#2e2e2e" stroke-width="1"/>
<text x="43.8" y="409.9" font-size="6.6" text-anchor="end">100</text>
<line x1="43.9" y1="381.2" x2="46.5" y2="381.2" stroke="#2e2e2e" stroke-width="1"/>
<text x="43.8" y="383.5" font-size="6.6" text-anchor="end">150</text>
<line x1="43.9" y1="354.8" x2="46.5" y2="354.8" stroke="#2e2e2e" stroke-width="1"/>
<text x="43.8" y="357.1" font-size="6.6" text-anchor="end">200</text>
<line x1="220" y1="354.8" x2="220" y2="460.4" stroke="#505050" stroke-width="1.5"/>
<line x1="220" y1="460.4" x2="222.6" y2="460.4" stroke="#505050" stroke-width="1"/>
<text x="223.5" y="462.7" font-size="6.6">0</text>
<line x1="220" y1="434" x2="222.6" y2="434" stroke="#505050" stroke-width="1"/>
<text x="223.5" y="436.3" font-size="6.6">10000</text>
<line x1="220" y1="407.6" x2="222.6" y2="407.6" stroke="#505050" stroke-width="1"/>
<text x="223.5" y="409.9" font-size="6.6">20000</text>
<line x1="220" y1="381.2" x2="222.6" y2="381.2" stroke="#505050" stroke-width="1"/>
<text x="223.5" y="383.5" font-size="6.6">30000</text>
<line x1="220" y1="354.8" x2="222.6" y2="354.8" stroke="#505050" stroke-width="1"/>
<text x="223.5" y="357.1" font-size="6.6">40000</text>
<line x1="46.5" y1="460.4" x2="220" y2="460.4" stroke="#2e2e2e" stroke-width="1"/>
<line x1="46.2" y1="460.4" x2="46.2" y2="462.6" stroke="#2e2e2e" stroke-width="1"/>
<text x="46.2" y="469.1" font-size="6.6" text-anchor="middle">0</text>
<line x1="72.85" y1="460.4" x2="72.85" y2="462.6" stroke="#2e2e2e" stroke-width="1"/>
<text x="72.85" y="469.1" font-size="6.6" text-anchor="middle">1</text>
<line x1="99.5" y1="460.4" x2="99.5" y2="462.6" stroke="#2e2e2e" stroke-width="1"/>
<text x="99.5" y="469.1" font-size="6.6" text-anchor="middle">2</text>
<line x1="126.15" y1="460.4" x2="126.15" y2="462.6" stroke="#2e2e2e" stroke-width="1"/>
<text x="126.15" y="469.1" font-size="6.6" text-anchor="middle">3</text>
<line x1="152.8" y1="460.4" x2="152.8" y2="462.6" stroke="#2e2e2e" stroke-width="1"/>
<text x="152.8" y="469.1" font-size="6.6" text-anchor="middle">4</text>
<line x1="179.45" y1="460.4" x2="179.45" y2="462.6" stroke="#2e2e2e" stroke-width="1"/>
<text x="179.45" y="469.1" font-size="6.6" text-anchor="middle">5</text>
<line x1="206.1" y1="460.4" x2="206.1" y2="462.6" stroke="#2e2e2e" stroke-width="1"/>
<text x="206.1" y="469.1" font-size="6.6" text-anchor="middle">6</text>
<rect x="93.3" y="436.3" width="4.7" height="24.1" fill="#050505"/>
<rect x="98.3" y="458.7" width="3.4" height="1.7" fill="#b0b0b0" stroke="#3a3a3a" stroke-width="0.6"/>
<rect x="106.3" y="458.8" width="4" height="1.6" fill="#050505"/>
<rect x="110.6" y="459.3" width="2.6" height="1.1" fill="#b0b0b0" stroke="#3a3a3a" stroke-width="0.6"/>
<rect x="120.2" y="369.3" width="4.3" height="91.1" fill="#050505"/>
<rect x="124.8" y="459.1" width="3.4" height="1.3" fill="#b0b0b0" stroke="#3a3a3a" stroke-width="0.6"/>
<rect x="147.6" y="455.5" width="3.9" height="4.9" fill="#050505"/>
<rect x="151.8" y="457.3" width="3.5" height="3.1" fill="#b0b0b0" stroke="#3a3a3a" stroke-width="0.6"/>
<rect x="174" y="453.9" width="4.4" height="6.5" fill="#050505"/>
<rect x="178.7" y="455.3" width="3.4" height="5.1" fill="#b0b0b0" stroke="#3a3a3a" stroke-width="0.6"/>
<rect x="200.4" y="456.2" width="3.4" height="4.2" fill="#050505"/>
<rect x="204.1" y="458.6" width="4" height="1.8" fill="#b0b0b0" stroke="#3a3a3a" stroke-width="0.6"/>
<polyline points="46.2,460.4 72.9,460.4 99.9,370.3 113.3,460.4" fill="none" stroke="#727272" stroke-width="1.25" stroke-dasharray="4.4 1.6"/>
<circle cx="46.2" cy="460.4" r="1.75" fill="#727272" stroke="#5a5a5a" stroke-width="0.5"/>
<circle cx="72.9" cy="460.4" r="1.75" fill="#727272" stroke="#5a5a5a" stroke-width="0.5"/>
<circle cx="99.9" cy="370.3" r="1.75" fill="#727272" stroke="#5a5a5a" stroke-width="0.5"/>
<circle cx="113.3" cy="460.4" r="1.75" fill="#727272" stroke="#5a5a5a" stroke-width="0.5"/>
<text x="86.03" y="479.5" font-size="7.27" textLength="103.22" lengthAdjust="spacingAndGlyphs">Months after 1<tspan font-size="4.51" dy="-3.05">st</tspan><tspan dy="3.05"> T-cell infusion</tspan></text>
<text transform="translate(26.4 435.09) rotate(-90)" x="0" y="0" font-size="7.41" textLength="59.28" lengthAdjust="spacingAndGlyphs">SFC / 5x10<tspan font-size="4.6" dy="-3.11">5</tspan><tspan dy="3.11"> PBMC</tspan></text>
<text transform="translate(247.6 369.83) rotate(90)" x="0" y="0" font-size="7.41" style="stroke-width:0.05px" textLength="56.98" lengthAdjust="spacingAndGlyphs">HHV6Copies/ mL</text>
<text x="160.1" y="349.1" font-size="7.2" textLength="17.9" lengthAdjust="spacingAndGlyphs">Pt. #7</text>
<rect x="158.3" y="353.75" width="4.1" height="4.51" fill="#000"/>
<rect x="158.7" y="361.44" width="3.3" height="3.71" fill="#7e7e7e" stroke="#111" stroke-width="0.8"/>
<line x1="157.7" y1="370.3" x2="163.8" y2="370.3" stroke="#666" stroke-width="1"/>
<circle cx="160.65" cy="370.3" r="1.3" fill="#888" stroke="#555" stroke-width="0.4"/>
<text x="167.2" y="358" font-size="5.6" textLength="32.6" lengthAdjust="spacingAndGlyphs">Without CID</text>
<text x="167.2" y="365.3" font-size="5.6" textLength="48.8" lengthAdjust="spacingAndGlyphs">With CID (in vitro)</text>
<text x="167.2" y="372.3" font-size="5.6" textLength="42" lengthAdjust="spacingAndGlyphs">HHV6 viral load</text>
<text x="107.2" y="347.1" font-size="6.4" textLength="12.8" lengthAdjust="spacingAndGlyphs">2<tspan font-size="4.0" dy="-2.2">nd</tspan><tspan dy="2.2"> T</tspan></text>
<text x="113.4" y="355.5" font-size="6.6" textLength="12.5" lengthAdjust="spacingAndGlyphs" text-anchor="middle">cells</text>
<line x1="113.3" y1="359.2" x2="113.3" y2="368.7" stroke="#000" stroke-width="1.5"/>
<polyline points="109.3,364.0 113.3,369.2 117.3,364.0" fill="none" stroke="#000" stroke-width="1.6"/>
<text x="272.8" y="329" font-size="11.92" textLength="7.44" lengthAdjust="spacingAndGlyphs">F</text>
<text x="267.85" y="343.8" font-size="9.16" textLength="16.4" lengthAdjust="spacingAndGlyphs">VZV</text>
<line x1="312.3" y1="351.7" x2="312.3" y2="459.9" stroke="#737373" stroke-width="1.4"/>
<line x1="309.7" y1="459.9" x2="312.3" y2="459.9" stroke="#737373" stroke-width="1"/>
<text x="309.6" y="462.2" font-size="6.6" text-anchor="end">0</text>
<line x1="309.7" y1="432.85" x2="312.3" y2="432.85" stroke="#737373" stroke-width="1"/>
<text x="309.6" y="435.15" font-size="6.6" text-anchor="end">100</text>
<line x1="309.7" y1="405.8" x2="312.3" y2="405.8" stroke="#737373" stroke-width="1"/>
<text x="309.6" y="408.1" font-size="6.6" text-anchor="end">200</text>
<line x1="309.7" y1="378.75" x2="312.3" y2="378.75" stroke="#737373" stroke-width="1"/>
<text x="309.6" y="381.05" font-size="6.6" text-anchor="end">300</text>
<line x1="309.7" y1="351.7" x2="312.3" y2="351.7" stroke="#737373" stroke-width="1"/>
<text x="309.6" y="354" font-size="6.6" text-anchor="end">400</text>
<line x1="488.5" y1="351.7" x2="488.5" y2="459.9" stroke="#2e2e2e" stroke-width="1"/>
<line x1="488.5" y1="459.9" x2="491.1" y2="459.9" stroke="#2e2e2e" stroke-width="1"/>
<text x="492" y="462.2" font-size="6.6">0</text>
<line x1="488.5" y1="432.85" x2="491.1" y2="432.85" stroke="#2e2e2e" stroke-width="1"/>
<text x="492" y="435.15" font-size="6.6">500</text>
<line x1="488.5" y1="405.8" x2="491.1" y2="405.8" stroke="#2e2e2e" stroke-width="1"/>
<text x="492" y="408.1" font-size="6.6">1000</text>
<line x1="488.5" y1="378.75" x2="491.1" y2="378.75" stroke="#2e2e2e" stroke-width="1"/>
<text x="492" y="381.05" font-size="6.6">1500</text>
<line x1="488.5" y1="351.7" x2="491.1" y2="351.7" stroke="#2e2e2e" stroke-width="1"/>
<text x="492" y="354" font-size="6.6">2000</text>
<line x1="312.3" y1="459.9" x2="488.5" y2="459.9" stroke="#737373" stroke-width="1.5"/>
<line x1="312.7" y1="459.9" x2="312.7" y2="462.1" stroke="#737373" stroke-width="1"/>
<text x="312.7" y="468.6" font-size="6.6" text-anchor="middle">0</text>
<line x1="339.7" y1="459.9" x2="339.7" y2="462.1" stroke="#737373" stroke-width="1"/>
<text x="339.7" y="468.6" font-size="6.6" text-anchor="middle">1</text>
<line x1="366.7" y1="459.9" x2="366.7" y2="462.1" stroke="#737373" stroke-width="1"/>
<text x="366.7" y="468.6" font-size="6.6" text-anchor="middle">2</text>
<line x1="393.7" y1="459.9" x2="393.7" y2="462.1" stroke="#737373" stroke-width="1"/>
<text x="393.7" y="468.6" font-size="6.6" text-anchor="middle">3</text>
<line x1="420.7" y1="459.9" x2="420.7" y2="462.1" stroke="#737373" stroke-width="1"/>
<text x="420.7" y="468.6" font-size="6.6" text-anchor="middle">4</text>
<line x1="447.7" y1="459.9" x2="447.7" y2="462.1" stroke="#737373" stroke-width="1"/>
<text x="447.7" y="468.6" font-size="6.6" text-anchor="middle">5</text>
<line x1="474.7" y1="459.9" x2="474.7" y2="462.1" stroke="#737373" stroke-width="1"/>
<text x="474.7" y="468.6" font-size="6.6" text-anchor="middle">6</text>
<rect x="402.2" y="455.5" width="3.6" height="4.4" fill="#050505"/>
<rect x="406.1" y="458.4" width="4" height="1.5" fill="#b0b0b0" stroke="#3a3a3a" stroke-width="0.6"/>
<rect x="416" y="364.8" width="4.3" height="95.1" fill="#050505"/>
<rect x="420.6" y="382.1" width="3.8" height="77.8" fill="#b0b0b0" stroke="#3a3a3a" stroke-width="0.6"/>
<rect x="443.2" y="406.2" width="4.4" height="53.7" fill="#050505"/>
<rect x="447.9" y="424.7" width="3.7" height="35.2" fill="#b0b0b0" stroke="#3a3a3a" stroke-width="0.6"/>
<rect x="470.4" y="425.7" width="4.3" height="34.2" fill="#050505"/>
<rect x="475" y="439.5" width="3.7" height="20.4" fill="#b0b0b0" stroke="#3a3a3a" stroke-width="0.6"/>
<polyline points="312.7,459.9 339.7,459.9 366.7,459.9 393.6,459.9 406.8,367.9 420.7,459.9" fill="none" stroke="#727272" stroke-width="1" stroke-dasharray="4.4 1.8"/>
<circle cx="312.7" cy="459.9" r="1.75" fill="#727272" stroke="#5a5a5a" stroke-width="0.5"/>
<circle cx="339.7" cy="459.9" r="1.75" fill="#727272" stroke="#5a5a5a" stroke-width="0.5"/>
<circle cx="366.7" cy="459.9" r="1.75" fill="#727272" stroke="#5a5a5a" stroke-width="0.5"/>
<circle cx="393.6" cy="459.9" r="1.75" fill="#727272" stroke="#5a5a5a" stroke-width="0.5"/>
<circle cx="406.8" cy="367.9" r="1.75" fill="#727272" stroke="#5a5a5a" stroke-width="0.5"/>
<circle cx="420.7" cy="459.9" r="1.75" fill="#727272" stroke="#5a5a5a" stroke-width="0.5"/>
<text x="354.93" y="479.7" font-size="7.27" textLength="92.41" lengthAdjust="spacingAndGlyphs">Months after T-cell infusion</text>
<text transform="translate(292 437.09) rotate(-90)" x="0" y="0" font-size="7.41" textLength="63.07" lengthAdjust="spacingAndGlyphs">SFC / 5x10<tspan font-size="4.6" dy="-3.11">5</tspan><tspan dy="3.11"> PBMCs</tspan></text>
<text transform="translate(513.3 378.56) rotate(90)" x="0" y="0" font-size="7.41" style="stroke-width:0.05px" textLength="52.25" lengthAdjust="spacingAndGlyphs">VZV Copies/ mL</text>
<text x="321.2" y="352.4" font-size="7.2" textLength="22.4" lengthAdjust="spacingAndGlyphs">Pt. #11</text>
<rect x="317.5" y="355.5" width="4" height="4.4" fill="#000"/>
<rect x="317.9" y="362.9" width="3.2" height="3.6" fill="#7e7e7e" stroke="#111" stroke-width="0.8"/>
<line x1="316.9" y1="372" x2="322.9" y2="372" stroke="#666" stroke-width="1"/>
<circle cx="319.8" cy="372" r="1.3" fill="#888" stroke="#555" stroke-width="0.4"/>
<text x="326.5" y="359.7" font-size="5.6" textLength="32.9" lengthAdjust="spacingAndGlyphs">Without CID</text>
<text x="326.5" y="366.7" font-size="5.6" textLength="48.5" lengthAdjust="spacingAndGlyphs">With CID (in vitro)</text>
<text x="326.5" y="374" font-size="5.6" textLength="38" lengthAdjust="spacingAndGlyphs">VZV viral load</text>
</svg>
</body></html>
